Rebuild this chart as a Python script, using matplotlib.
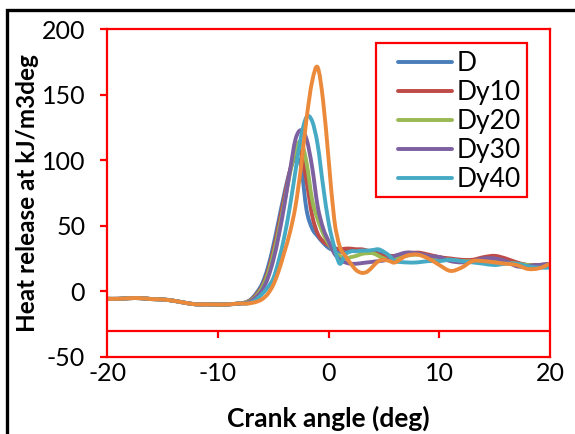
import matplotlib
matplotlib.use('Agg')
import matplotlib.pyplot as plt
from matplotlib.patches import Rectangle, PathPatch
from matplotlib.path import Path
from matplotlib.lines import Line2D

plt.rcParams['font.family'] = ['Lato', 'DejaVu Sans']
plt.rcParams['axes.unicode_minus'] = False

# crank angle (deg)
angle = [-20, -19, -18, -17, -16, -15, -14, -13, -12, -11, -10, -9, -8,
         -7.5, -7, -6.5, -6, -5.5, -5, -4.5, -4, -3.5, -3, -2.5, -2, -1.5, -1,
         -0.5, 0, 0.5, 1, 1.5, 2, 2.5, 3, 3.5, 4, 4.5, 5, 5.5, 6,
         7, 8, 9, 10, 11, 12, 13, 14, 15, 16, 17, 18, 19, 20]

# heat release (kJ/m3deg)
base = [-5.8, -5.8, -5.3, -5.3, -6, -6.3, -7.3, -8.8, -10, -10, -10.2, -10, -9.3]

hr_d = base + [-8.5, -6, -1, 6, 18, 35, 55, 75, 92, 102, 95, 62, 48, 42,
               37, 33, 31, 30, 30, 30.5, 31, 31, 30.5, 30, 29, 28, 27, 27,
               28, 28.5, 27, 26, 24, 23, 23, 24, 24, 22, 21, 20, 20, 20]
hr_dy10 = base + [-8.5, -6.5, -2, 4, 15, 31, 51, 72, 92, 106, 105, 84, 58, 44,
                  38, 35, 33, 32, 32.5, 32.5, 32, 32, 31, 30, 28, 27, 27, 27,
                  28, 29.5, 28, 26, 25, 24, 24, 26, 27, 25, 22, 20, 20, 21]
hr_dy20 = base + [-8.5, -7, -3, 3, 13, 28, 47, 68, 90, 108, 114, 98, 70, 55,
                  44, 36, 30, 27, 25, 26, 27, 28.5, 29, 29, 27, 25, 24, 25,
                  27, 28, 27, 25, 24, 23, 23, 23, 23, 22, 21, 20, 19, 20]
hr_dy30 = base + [-9, -7.5, -4, 1, 10, 24, 43, 66, 92, 116, 123, 116, 95, 65,
                  48, 38, 29, 24, 22, 21, 21, 21.5, 22, 22.5, 23, 23.5, 25, 27,
                  29.5, 29, 27, 26, 23, 22, 23, 25, 25, 23, 19, 19, 20, 21]
hr_dy40 = base + [-9.5, -8.5, -6, -2, 3, 10, 24, 42, 65, 92, 118, 133, 130, 112,
                  80, 52, 34, 21, 28, 30.5, 30.5, 31, 31, 31.5, 32, 30, 27, 23,
                  22, 22, 23, 23, 24, 23, 22, 21, 20, 21, 21, 19, 18, 18]
hr_dy50 = base + [-9.5, -9, -8, -6, -2, 5, 16, 30, 45, 65, 95, 132, 160, 171,
                  145, 100, 55, 34, 27, 21, 16, 14, 15, 19, 23, 24, 23, 22,
                  27, 28, 25, 20, 15.5, 18, 23, 23, 22, 21, 20, 17, 17.5, 21]

labels = ['D', 'Dy10', 'Dy20', 'Dy30', 'Dy40']
colors = ['#4A7EBB', '#BE4B48', '#98B954', '#7D60A0', '#46AAC5']
xticks = [-20, -10, 0, 10, 20]
yticks = [-50, 0, 50, 100, 150, 200]


def smooth_line(ax, x, y, color):
    """ draw an Excel style smoothed line (cubic bezier through the points) """
    n = len(x)
    verts = [(x[0], y[0])]
    codes = [Path.MOVETO]
    for i in range(n - 1):
        a = max(i - 1, 0)
        b = min(i + 2, n - 1)
        c1 = (x[i] + (x[i + 1] - x[a]) / 6, y[i] + (y[i + 1] - y[a]) / 6)
        c2 = (x[i + 1] - (x[b] - x[i]) / 6, y[i + 1] - (y[b] - y[i]) / 6)
        verts += [c1, c2, (x[i + 1], y[i + 1])]
        codes += [Path.CURVE4] * 3
    patch = PathPatch(Path(verts, codes), facecolor='none', edgecolor=color,
                      lw=2.8, capstyle='round', joinstyle='round')
    ax.add_patch(patch)


fig = plt.figure(figsize=(5.75, 4.34), dpi=100)
ax = fig.add_axes([0.1868, 0.1781, 0.7697, 0.7544])

for y, col in zip([hr_d, hr_dy10, hr_dy20, hr_dy30, hr_dy40], colors):
    smooth_line(ax, angle, y, col)
smooth_line(ax, angle, hr_dy50, '#EC8A3C')

ax.set_xlim(-20, 20)
ax.set_ylim(-50, 200)
ax.set_xticks(xticks)
ax.set_yticks(yticks)
for s in ax.spines.values():
    s.set_color('red')
    s.set_linewidth(1.6)

# horizontal axis line sits at -30 with its ticks hanging below
ax.axhline(-30, color='red', lw=1.6, zorder=1)
ax.vlines(xticks[1:-1], -35.5, -30, color='red', lw=1.6)

ax.tick_params(axis='x', length=0, pad=4, labelsize=18)
ax.tick_params(axis='y', length=5, width=1.6, color='red', pad=11, labelsize=18)

ax.set_xlabel('Crank angle (deg)', fontsize=19, fontweight='bold', labelpad=15)
ax.set_ylabel('Heat release at kJ/m3deg', fontsize=17.5, fontweight='bold', labelpad=2)

handles = [Line2D([], [], color=c, lw=2.8, solid_capstyle='round') for c in colors]
ax.legend(handles, labels, loc='upper left', bbox_to_anchor=(0.657, 0.933),
          frameon=False, fontsize=19, handlelength=2.05, handletextpad=0.15,
          labelspacing=0.15, borderpad=0, borderaxespad=0)
ax.add_patch(Rectangle((0.608, 0.488), 0.340, 0.471, transform=ax.transAxes,
                       fill=False, edgecolor='red', lw=1.6, zorder=5))

# outer chart border
fig.add_artist(Rectangle((0.012, -0.2), 1.2, 1.177, transform=fig.transFigure,
                         fill=False, edgecolor='black', lw=2.4))

fig.savefig('out.png', dpi=100)
